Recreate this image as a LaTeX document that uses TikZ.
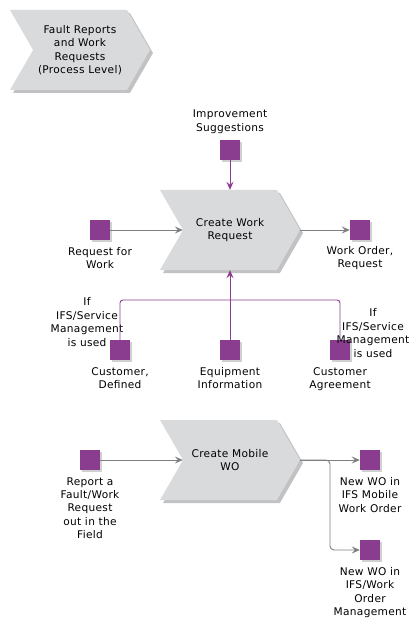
\documentclass[tikz,border=0pt]{standalone}
\usepackage{fontspec}
\setmainfont[LetterSpace=3]{DejaVu Sans}
\usetikzlibrary{positioning, shapes.symbols, shadows, arrows.meta}

\definecolor{fnc}{HTML}{D9DADC}
\definecolor{fncsh}{HTML}{C2C2C4}
\definecolor{obj}{HTML}{8A3D8E}
\definecolor{objsh}{HTML}{D0D0D0}
\definecolor{conn}{HTML}{7F7F7F}

\tikzset{
  func/.style={signal, signal to=east, signal from=west, signal pointer angle=120,
    fill=fnc, minimum width=140pt, minimum height=80pt, inner sep=0pt, align=center,
    drop shadow={shadow xshift=3pt, shadow yshift=-3pt, fill=fncsh, opacity=1}},
  obj/.style={fill=obj, minimum size=20pt, inner sep=0pt,
    drop shadow={shadow xshift=2pt, shadow yshift=-2pt, fill=objsh, opacity=1}},
  lbl/.style={align=center, inner sep=0pt},
  garrow/.style={draw=conn, line width=0.9pt, -{Stealth[length=8pt, width=7pt, inset=3pt]}},
  parrow/.style={draw=obj, line width=0.9pt, -{Stealth[length=8pt, width=7pt, inset=3pt]}},
  pline/.style={draw=obj, line width=0.9pt, rounded corners=3pt}
}

\begin{document}
\begin{tikzpicture}[x=1pt, y=-1pt, font=\fontsize{10.6}{13.4}\selectfont]

    \useasboundingbox (0,0) rectangle (418,628);

    % process level
    \node [func] (frw) at (80, 50) {Fault Reports\\and Work\\Requests\\(Process Level)};

    % create work request
    \node [func] (cwr) at (230, 230) {Create Work\\Request};

    \node [obj] (is) at (230, 150) {};
    \node [lbl, above=6pt of is] (isl) {Improvement\\Suggestions};

    \node [obj] (rfw) at (100, 230) {};
    \node [lbl, below=7pt of rfw] (rfwl) {Request for\\Work};

    \node [obj] (wor) at (360, 230) {};
    \node [lbl, below=6pt of wor] (worl) {Work Order,\\Request};

    \node [obj] (cd) at (120, 350) {};
    \node [lbl, below=7pt of cd] (cdl) {Customer,\\Defined};

    \node [obj] (ei) at (230, 350) {};
    \node [lbl, below=7pt of ei] (eil) {Equipment\\Information};

    \node [obj] (ca) at (340, 350) {};
    \node [lbl, below=7pt of ca] (cal) {Customer\\Agreement};

    \node [lbl] (ifl) at (87, 322) {If\\IFS/Service\\Management\\is used};
    \node [lbl] (ifr) at (373, 333) {If\\IFS/Service\\Management\\is used};

    \coordinate (jn) at (230, 300);

    \draw [parrow] (is) to (cwr.north);
    \draw [garrow] (rfw) to (cwr.west);
    \draw [garrow] (cwr.east) to (wor);

    \draw [pline] (cd) |- (jn);
    \draw [pline] (ca) |- (jn);
    \draw [parrow] (ei) to (cwr.south);

    % create mobile wo
    \node [func] (cmw) at (230, 460) {Create Mobile\\WO};

    \node [obj] (rf) at (90, 460) {};
    \node [lbl, below=7pt of rf] (rfl) {Report a\\Fault/Work\\Request\\out in the\\Field};

    \node [obj] (nwm) at (370, 460) {};
    \node [lbl, below=7pt of nwm] (nwml) {New WO in\\IFS Mobile\\Work Order};

    \node [obj] (nwo) at (370, 550) {};
    \node [lbl, below=7pt of nwo] (nwol) {New WO in\\IFS/Work\\Order\\Management};

    \coordinate (br) at (330, 460);

    \draw [garrow] (rf) to (cmw.west);
    \draw [garrow] (cmw.east) to (nwm);
    \draw [garrow, rounded corners=4pt] (cmw.east) -- (br) |- (nwo);

  \end{tikzpicture}
\end{document}
